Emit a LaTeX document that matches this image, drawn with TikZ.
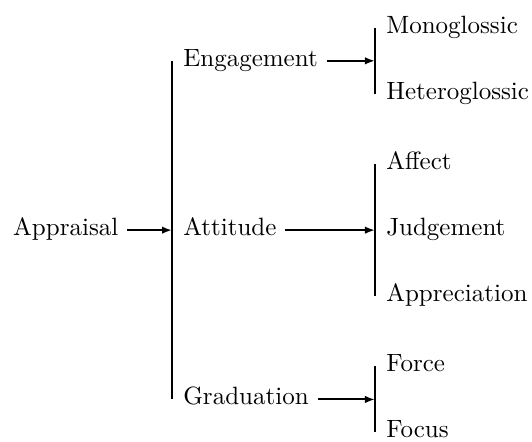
\documentclass[tikz,border=0pt]{standalone}
\usepackage{tikz}
\usetikzlibrary{arrows.meta,calc}

\begin{document}
\begin{tikzpicture}
	[
	 every node/.style = {anchor = mid west,
	                      inner sep = 3.33pt},
	 bar/.style = {thick},
	 sys/.style = {thick, -{Latex[length=4pt,width=3pt]}},
	 opt/.style = {xshift = 1pt}
	]
	\useasboundingbox (-2.418,-2.964) rectangle (5.060,3.235);

	% Appraisal system
	\coordinate (b1)  at (0,0);
	\coordinate (b1t) at (0,2.38);
	\coordinate (b1b) at (0,-2.38);
	\node (A) at (-2.356,0) {Appraisal};
	\draw [bar] (b1t) -- (b1b);
	\draw [sys] (A.mid east) -- (b1);

	\node [opt] (B1) at (b1t) {Engagement};
	\node [opt] (B2) at (b1)  {Attitude};
	\node [opt] (B3) at (b1b) {Graduation};

	% Engagement system
	\coordinate (c1)  at (2.853,2.38);
	\coordinate (c1t) at ($(c1)+(0,0.464)$);
	\coordinate (c1b) at ($(c1)-(0,0.464)$);
	\draw [bar] (c1t) -- (c1b);
	\draw [sys] (B1.mid east) -- (c1);
	\node [opt] (C1) at (c1t) {Monoglossic};
	\node [opt] (C2) at (c1b) {Heteroglossic};

	% Attitude system
	\coordinate (c2)  at (2.853,0);
	\coordinate (c2t) at ($(c2)+(0,0.928)$);
	\coordinate (c2b) at ($(c2)-(0,0.928)$);
	\draw [bar] (c2t) -- (c2b);
	\draw [sys] (B2.mid east) -- (c2);
	\node [opt] (D1) at (c2t) {Affect};
	\node [opt] (D2) at (c2)  {Judgement};
	\node [opt] (D3) at (c2b) {Appreciation};

	% Graduation system
	\coordinate (c3)  at (2.853,-2.38);
	\coordinate (c3t) at ($(c3)+(0,0.464)$);
	\coordinate (c3b) at ($(c3)-(0,0.464)$);
	\draw [bar] (c3t) -- (c3b);
	\draw [sys] (B3.mid east) -- (c3);
	\node [opt] (E1) at (c3t) {Force};
	\node [opt] (E2) at (c3b) {Focus};
\end{tikzpicture}
\end{document}
